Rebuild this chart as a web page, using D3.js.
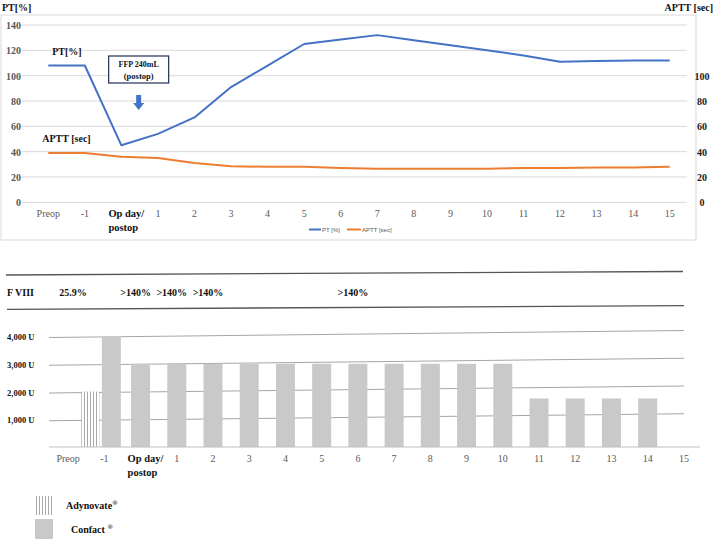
<!DOCTYPE html>
<html>
<head>
<meta charset="utf-8">
<script src="https://cdn.jsdelivr.net/npm/d3@7/dist/d3.min.js"></script>
<style>
  body { margin: 0; background: #fff; }
  svg { display: block; font-family: "Liberation Serif", "Times New Roman", serif; }
</style>
</head>
<body>
<svg id="chart" width="714" height="541"></svg>
<script>
// ---------- data ----------
const categories = ["Preop", "-1", "Op day", "1", "2", "3", "4", "5", "6", "7", "8", "9", "10", "11", "12", "13", "14", "15"];
const ptValues   = [108, 108, 45, 54, 67, 91, 108, 125, 128.5, 132, 128, 124, 120, 116, 111, 111.5, 112, 112];
const apttValues = [39, 39, 36, 35, 31, 28.5, 28, 28, 27, 26.5, 26.5, 26.5, 26.5, 27, 27, 27.5, 27.5, 28];
const leftTicks  = [0, 20, 40, 60, 80, 100, 120, 140];
const rightTicks = [0, 20, 40, 60, 80, 100];

const confactCats   = ["-1", "Op day", "1", "2", "3", "4", "5", "6", "7", "8", "9", "10", "11", "12", "13", "14"];
const confactValues = [4000, 3000, 3000, 3000, 3000, 3000, 3000, 3000, 3000, 3000, 3000, 3000, 1750, 1750, 1750, 1750];
const adynovateCats   = ["-1"];
const adynovateValues = [2000];
const unitTicks = [1000, 2000, 3000, 4000];
const unitTickLabels = ["1,000 U", "2,000 U", "3,000 U", "4,000 U"];

const fviiiCats   = ["Preop", "Op day", "1", "2", "6"];
const fviiiLabels = ["25.9%", ">140%", ">140%", ">140%", ">140%"];

// ---------- setup ----------
const svg = d3.select("#chart");
const axisGray = "#595959";
const blue = "#4472C4", orange = "#ED7D31";

// ================= TOP CHART =================
svg.append("rect").attr("x", 1).attr("y", 15).attr("width", 695).attr("height", 225)
  .attr("fill", "none").attr("stroke", "#d9d9d9").attr("stroke-width", 1);

const xTop = d3.scalePoint().domain(categories).range([30, 688]).padding(0.5);
const yTop = d3.scaleLinear().domain([0, 140]).range([202.3, 25]);
const yRight = d3.scaleLinear().domain([0, 140]).range([202.3, 25]);

// gridlines
svg.append("g").selectAll("line").data(leftTicks).join("line")
  .attr("x1", 22).attr("x2", 687)
  .attr("y1", d => yTop(d)).attr("y2", d => yTop(d))
  .attr("stroke", "#d9d9d9").attr("stroke-width", 1);

// left ticks
svg.append("g").selectAll("text").data(leftTicks).join("text")
  .attr("x", 21).attr("y", d => yTop(d) + 4)
  .attr("text-anchor", "end").attr("font-size", 10).attr("font-weight", "bold")
  .attr("fill", axisGray).text(d => d);

// right ticks
svg.append("g").selectAll("text").data(rightTicks).join("text")
  .attr("x", 702).attr("y", d => yRight(d) + 4)
  .attr("text-anchor", "middle").attr("font-size", 10).attr("font-weight", "bold")
  .attr("fill", "#222").text(d => d);

// axis titles
svg.append("text").attr("x", 2).attr("y", 11).attr("font-size", 10).attr("font-weight", "bold")
  .attr("fill", "#111").text("PT[%]");
svg.append("text").attr("x", 713).attr("y", 11).attr("text-anchor", "end").attr("font-size", 10)
  .attr("font-weight", "bold").attr("fill", "#111").text("APTT [sec]");

// x tick labels
function drawXLabels(g, scale, yBase) {
  categories.forEach(c => {
    if (c === "Op day") {
      const t = g.append("text").attr("x", scale(c) - 13).attr("y", yBase)
        .attr("font-size", 10.5).attr("font-weight", "bold").attr("fill", "#111");
      t.append("tspan").attr("x", scale(c) - 13).attr("dy", 0).text("Op day/");
      t.append("tspan").attr("x", scale(c) - 13).attr("dy", 14).text("postop");
    } else {
      g.append("text").attr("x", scale(c)).attr("y", yBase).attr("text-anchor", "middle")
        .attr("font-size", 10).attr("fill", axisGray).text(c);
    }
  });
}
drawXLabels(svg.append("g"), xTop, 217);

// lines
const lineGen = (ys, vals) => d3.line().x((d, i) => xTop(categories[i])).y(d => ys(d))(vals);
svg.append("path").attr("d", lineGen(yRight, apttValues)).attr("fill", "none")
  .attr("stroke", orange).attr("stroke-width", 2).attr("stroke-linejoin", "round");
svg.append("path").attr("d", lineGen(yTop, ptValues)).attr("fill", "none")
  .attr("stroke", blue).attr("stroke-width", 2).attr("stroke-linejoin", "round");

// annotations
svg.append("text").attr("x", xTop("Preop") + 4).attr("y", yTop(ptValues[0]) - 11)
  .attr("font-size", 10).attr("font-weight", "bold").attr("fill", "#111").text("PT[%]");
svg.append("text").attr("x", xTop("Preop") - 6).attr("y", yRight(apttValues[0]) - 11)
  .attr("font-size", 10).attr("font-weight", "bold").attr("fill", "#111").text("APTT [sec]");

const mid = (xTop("Op day") + xTop("1")) / 2 - 1;
svg.append("rect").attr("x", mid - 30).attr("y", 56).attr("width", 60).attr("height", 27)
  .attr("fill", "#fff").attr("stroke", "#1F2F55").attr("stroke-width", 1.2);
svg.append("text").attr("x", mid).attr("y", 67).attr("text-anchor", "middle")
  .attr("font-size", 8).attr("font-weight", "bold").attr("fill", "#111").text("FFP 240mL");
svg.append("text").attr("x", mid).attr("y", 78.5).attr("text-anchor", "middle")
  .attr("font-size", 8.5).attr("font-weight", "bold").attr("fill", "#111").text("(postop)");
// arrow
svg.append("path")
  .attr("d", `M${mid - 2.5},95 L${mid + 2.5},95 L${mid + 2.5},103 L${mid + 5.5},103 L${mid},110 L${mid - 5.5},103 L${mid - 2.5},103 Z`)
  .attr("fill", blue);

// legend (top)
const lg = svg.append("g").attr("font-family", "Liberation Sans, Arial, sans-serif").attr("font-size", 6).attr("fill", axisGray);
lg.append("line").attr("x1", 309).attr("x2", 321).attr("y1", 229.5).attr("y2", 229.5).attr("stroke", blue).attr("stroke-width", 2);
lg.append("text").attr("x", 322).attr("y", 231.5).text("PT [%]");
lg.append("line").attr("x1", 347).attr("x2", 361).attr("y1", 229.5).attr("y2", 229.5).attr("stroke", orange).attr("stroke-width", 2);
lg.append("text").attr("x", 362).attr("y", 231.5).text("APTT [sec]");

// ================= BOTTOM =================
const xBot = d3.scalePoint().domain(categories).range([50, 702]).padding(0.5);
const yBot = d3.scaleLinear().domain([0, 4000]).range([447, 336]);

// F VIII row
svg.append("line").attr("x1", 6).attr("y1", 275).attr("x2", 683).attr("y2", 271.5)
  .attr("stroke", "#555").attr("stroke-width", 1.3);
svg.append("line").attr("x1", 7).attr("y1", 309.3).attr("x2", 684).attr("y2", 305.7)
  .attr("stroke", "#555").attr("stroke-width", 1.3);
svg.append("text").attr("x", 7).attr("y", 295.5).attr("font-size", 10).attr("font-weight", "bold")
  .attr("fill", "#111").text("F VIII");
svg.append("g").selectAll("text").data(fviiiCats).join("text")
  .attr("x", (d, i) => xBot(d) + (i === 0 ? 5 : -5))
  .attr("y", 295.5).attr("text-anchor", "middle").attr("font-size", 10).attr("font-weight", "bold")
  .attr("fill", "#111").text((d, i) => fviiiLabels[i]);

// pattern for Adynovate
const defs = svg.append("defs");
const pat = defs.append("pattern").attr("id", "vlines").attr("patternUnits", "userSpaceOnUse")
  .attr("width", 3).attr("height", 10);
pat.append("rect").attr("width", 3).attr("height", 10).attr("fill", "#fff");
pat.append("line").attr("x1", 0.5).attr("x2", 0.5).attr("y1", 0).attr("y2", 10)
  .attr("stroke", "#a8a8a8").attr("stroke-width", 1);

// gridlines (slightly tilted like the reference)
svg.append("g").selectAll("line").data(unitTicks).join("line")
  .attr("x1", 49).attr("x2", 684)
  .attr("y1", d => yBot(d) + 1.5).attr("y2", d => yBot(d) - 5.5)
  .attr("stroke", "#a6a6a6").attr("stroke-width", 1);

// bars
const barW = 19;
const hasAdy = c => adynovateCats.includes(c);
svg.append("g").selectAll("rect").data(confactCats).join("rect")
  .attr("x", (d) => xBot(d) - barW / 2 + (hasAdy(d) ? 7 : 0))
  .attr("y", (d, i) => yBot(confactValues[i]))
  .attr("width", barW)
  .attr("height", (d, i) => yBot(0) - yBot(confactValues[i]))
  .attr("fill", "#c9c9c9");
svg.append("g").selectAll("rect").data(adynovateCats).join("rect")
  .attr("x", d => xBot(d) - 14 - 9)
  .attr("y", (d, i) => yBot(adynovateValues[i]))
  .attr("width", 18)
  .attr("height", (d, i) => yBot(0) - yBot(adynovateValues[i]))
  .attr("fill", "url(#vlines)");

// baseline
svg.append("line").attr("x1", 49).attr("x2", 700).attr("y1", yBot(0)).attr("y2", yBot(0))
  .attr("stroke", "#bfbfbf").attr("stroke-width", 1);

// y labels
svg.append("g").selectAll("text").data(unitTicks).join("text")
  .attr("x", 7).attr("y", d => yBot(d) + 4)
  .attr("font-size", 8.5).attr("font-weight", "bold").attr("fill", "#111")
  .text((d, i) => unitTickLabels[i]);

// x labels bottom
drawXLabels(svg.append("g"), xBot, 462);

// legend bottom
svg.append("rect").attr("x", 35).attr("y", 496).attr("width", 18).attr("height", 19).attr("fill", "url(#vlines)");
const t1 = svg.append("text").attr("x", 66).attr("y", 509).attr("font-size", 10).attr("font-weight", "bold").attr("fill", "#111");
t1.append("tspan").text("Adynovate");
t1.append("tspan").attr("font-size", 7).attr("dy", -4).text("®");
svg.append("rect").attr("x", 35).attr("y", 519).attr("width", 18).attr("height", 20).attr("fill", "#c9c9c9");
const t2 = svg.append("text").attr("x", 71).attr("y", 533).attr("font-size", 10).attr("font-weight", "bold").attr("fill", "#111");
t2.append("tspan").text("Confact ");
t2.append("tspan").attr("font-size", 7).attr("dy", -4).text("®");
</script>
</body>
</html>
